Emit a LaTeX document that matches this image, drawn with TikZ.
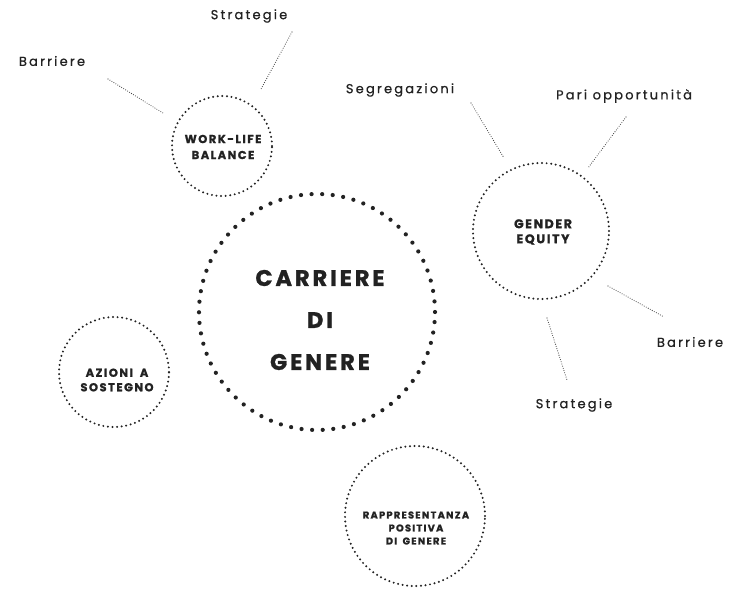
\documentclass[tikz,border=0pt]{standalone}
\usepackage{fontspec}
\setmainfont{Poppins}
\newfontfamily\lblfont[LetterSpace=17,FakeBold=0.6]{Poppins}
\newfontfamily\titlefont[LetterSpace=13,BoldFont={* Bold},BoldFeatures={FakeBold=1.2}]{Poppins}
\definecolor{ink}{HTML}{222222}
\begin{document}
\begin{tikzpicture}[x=1pt,y=-1pt,
  big/.style={circle,draw=ink,line width=4.2pt,line cap=round,dash pattern=on 0pt off 10.6pt,minimum size=236pt,inner sep=0pt},
  small/.style={circle,draw=ink,line width=2.2pt,line cap=round,dash pattern=on 0pt off 4.6pt,inner sep=0pt},
  ctext/.style={align=center,text=ink,inner sep=0pt},
  link/.style={draw=ink!85,line width=1.1pt,line cap=round,dash pattern=on 0pt off 2.3pt},
  lbl/.style={text=ink,font=\lblfont\fontsize{13}{14}\selectfont,inner sep=0pt}]
\useasboundingbox (0,0) rectangle (730,589);
\fill[white] (0,0) rectangle (730,589);

\node[big] (cdg) at (317,312) {};
\node[small,minimum size=100pt] (wlb) at (222,146) {};
\node[small,minimum size=136pt] (ge) at (541,231) {};
\node[small,minimum size=110pt] (as) at (114,372) {};
\node[small,minimum size=140pt] (rpg) at (415,516) {};

\node[ctext,font=\titlefont\bfseries\fontsize{22.5}{42}\selectfont] (cdgt) at (320,320) {CARRIERE\\DI\\GENERE};
\node[ctext,font=\titlefont\bfseries\fontsize{11.5}{16}\selectfont] (wlbt) at (223,147) {WORK-LIFE\\BALANCE};
\node[ctext,font=\titlefont\bfseries\fontsize{12.5}{15}\selectfont] (get) at (543,232) {GENDER\\EQUITY};
\node[ctext,font=\titlefont\bfseries\fontsize{11.5}{14.5}\selectfont] (ast) at (117,380) {AZIONI\hspace{3pt} A\\SOSTEGNO};
\node[ctext,font=\titlefont\bfseries\fontsize{9.8}{13}\selectfont] (rpgt) at (416,528) {RAPPRESENTANZA\\POSITIVA\\DI\hspace{2pt} GENERE};

\node[lbl] (wbar) at (52,61) {Barriere};
\node[lbl] (wstr) at (249,16) {Strategie};
\node[lbl] (gseg) at (400,90) {Segregazioni};
\node[lbl] (gpar) at (624,96) {Pari opportunità};
\node[lbl] (gbar) at (690,342) {Barriere};
\node[lbl] (gstr) at (574,405) {Strategie};

\coordinate (a1) at (108,79);  \coordinate (a2) at (163,113);
\coordinate (b1) at (292,32);  \coordinate (b2) at (261,89);
\coordinate (c1) at (471,103); \coordinate (c2) at (504,158);
\coordinate (d1) at (626,117); \coordinate (d2) at (588,168);
\coordinate (e1) at (608,286); \coordinate (e2) at (664,317);
\coordinate (f1) at (547,318); \coordinate (f2) at (567,380);

\draw[link] (a1) -- (a2);
\draw[link] (b1) -- (b2);
\draw[link] (c1) -- (c2);
\draw[link] (d1) -- (d2);
\draw[link] (e1) -- (e2);
\draw[link] (f1) -- (f2);
\end{tikzpicture}
\end{document}
